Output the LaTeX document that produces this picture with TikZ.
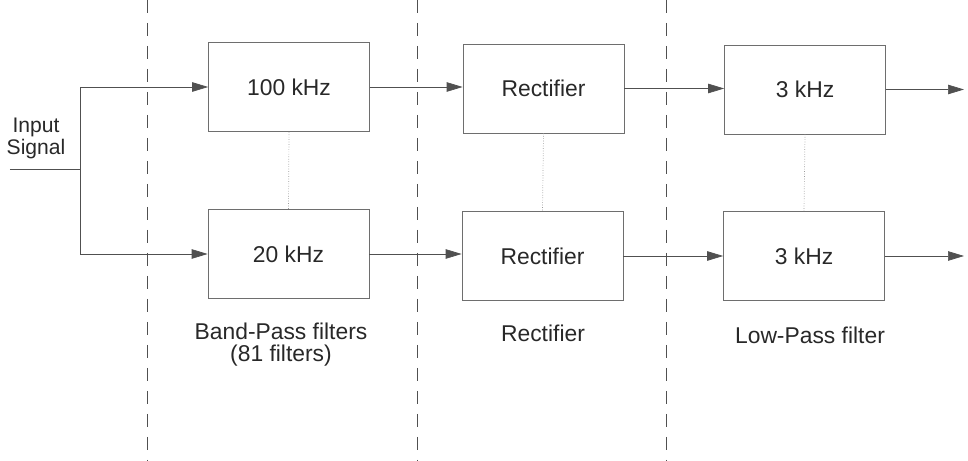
\documentclass[tikz,border=0pt]{standalone}
\usepackage{fontspec}
\setmainfont{Liberation Sans}
\usepackage{tikz}
\usetikzlibrary{arrows.meta,positioning,calc}
\definecolor{boxcolor}{RGB}{110,110,110}
\definecolor{linecolor}{RGB}{80,80,80}
\definecolor{textcolor}{RGB}{40,40,40}

\begin{document}
\begin{tikzpicture}[
        font=\fontsize{13}{14}\selectfont,
        text=textcolor,
        block/.style={rectangle, draw=boxcolor, thin, minimum width=3.22cm, minimum height=1.78cm},
        flow/.style={draw=linecolor, thin, -{Triangle[length=0.32cm,width=0.19cm]}},
        stage/.style={draw=linecolor, thin, dash pattern=on 0.26cm off 0.2cm},
        link/.style={draw=boxcolor!70, densely dotted, thin},
        caption/.style={align=center}
    ]
        \useasboundingbox (0,0) rectangle (19.36,-9.22);

        % stage separators
        \foreach \x in {2.94,8.34,13.32}
            \draw[stage] (\x,0) -- (\x,-9.22);

        % filter bank
        \node[block] (bp1) at (5.78,-1.74) {100 kHz};
        \node[block] (bp2) at (5.77,-5.08) {20 kHz};
        \node[block] (re1) at (10.87,-1.77) {Rectifier};
        \node[block] (re2) at (10.85,-5.12) {Rectifier};
        \node[block] (lp1) at (16.10,-1.79) {3 kHz};
        \node[block] (lp2) at (16.08,-5.12) {3 kHz};

        \draw[link] (bp1.south) -- (bp2.north);
        \draw[link] (re1.south) -- (re2.north);
        \draw[link] (lp1.south) -- (lp2.north);

        % input split
        \node[caption, font=\fontsize{12}{12.5}\selectfont] (input) at (0.72,-2.76) {Input\\Signal};
        \coordinate (in) at (0.2,-3.38);
        \coordinate (split) at (1.6,-3.38);
        \draw[draw=linecolor, thin] (in) -- (split);
        \draw[flow] (split) |- (bp1.west);
        \draw[flow] (split) |- (bp2.west);

        \draw[flow] (bp1.east) -- (re1.west |- bp1.east);
        \draw[flow] (bp2.east) -- (re2.west |- bp2.east);
        \draw[flow] (re1.east) -- (lp1.west |- re1.east);
        \draw[flow] (re2.east) -- (lp2.west);

        \coordinate (out1) at (19.28,-1.79);
        \coordinate (out2) at (19.28,-5.12);
        \draw[flow] (lp1.east) -- (out1);
        \draw[flow] (lp2.east) -- (out2);

        % stage names
        \node[caption, font=\fontsize{13}{12.5}\selectfont] (bpname) at (5.62,-6.9) {Band-Pass filters\\(81 filters)};
        \node[caption] (rename) at (10.86,-6.66) {Rectifier};
        \node[caption] (lpname) at (16.2,-6.7) {Low-Pass filter};
    \end{tikzpicture}
\end{document}
